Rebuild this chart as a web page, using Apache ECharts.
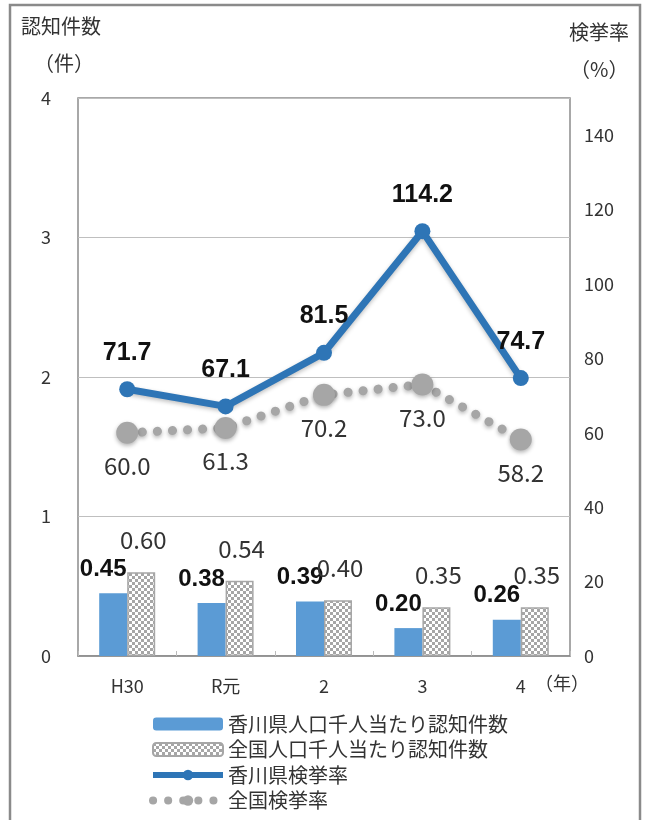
<!DOCTYPE html>
<html>
<head>
<meta charset="utf-8">
<script src="https://cdn.jsdelivr.net/npm/echarts@6/dist/echarts.min.js"></script>
<style>
  html, body { margin: 0; padding: 0; background: #fff; }
  #main { width: 646px; height: 820px; }
</style>
</head>
<body>
<div id="main"></div>
<script>
const years = ['H30', 'R元', '2', '3', '4']
const kagawaCount = [0.45, 0.38, 0.39, 0.20, 0.26]
const nationalCount = [0.60, 0.54, 0.40, 0.35, 0.35]
const kagawaRate = [71.7, 67.1, 81.5, 114.2, 74.7]
const nationalRate = [60.0, 61.3, 70.2, 73.0, 58.2]
const leftTicks = [0, 1, 2, 3, 4]
const rightTicks = [0, 20, 40, 60, 80, 100, 120, 140]

const FONT = '"Noto Sans CJK JP", sans-serif'
const BOLD_FONT = '"Liberation Sans", Arial, sans-serif'

// checker pattern for the national bars
function checker() {
    let c = document.createElement('canvas')
    c.width = 6; c.height = 6
    let ctx = c.getContext('2d')
    ctx.fillStyle = '#ffffff'
    ctx.fillRect(0, 0, 6, 6)
    ctx.fillStyle = '#a6a6a6'
    ctx.fillRect(0, 0, 3, 3)
    ctx.fillRect(3, 3, 3, 3)
    return c
}
const pattern = { image: checker(), repeat: 'repeat' }

let myChart = echarts.init(document.getElementById('main'))

let option = {
    animation: false,
    textStyle: { fontFamily: FONT },
    grid: {
        left: 78, right: 76, top: 98, bottom: 164,
        show: true, borderColor: '#8c8c8c', borderWidth: 1.5
    },
    graphic: [
        { type: 'rect', shape: { x: 10, y: 5, width: 630, height: 830 },
          style: { fill: 'none', stroke: '#8a8a8a', lineWidth: 2.5 }, silent: true },
        { type: 'text', left: 21, top: 16, style: { text: '認知件数', font: '20px ' + FONT, fill: '#333' } },
        { type: 'text', left: 34, top: 53, style: { text: '（件）', font: '20px ' + FONT, fill: '#333' } },
        { type: 'text', left: 569, top: 22, style: { text: '検挙率', font: '20px ' + FONT, fill: '#333' } },
        { type: 'text', left: 570, top: 59, style: { text: '（%）', font: '20px ' + FONT, fill: '#333' } },
        { type: 'text', left: 535, top: 674, style: { text: '（年）', font: '18px ' + FONT, fill: '#333' } }
    ],
    legend: {
        orient: 'vertical',
        left: 144, top: 709,
        itemWidth: 70, itemHeight: 13, itemGap: 5.5,
        textStyle: { fontSize: 20, color: '#333', fontFamily: FONT },
        data: [
            { name: '香川県人口千人当たり認知件数' },
            { name: '全国人口千人当たり認知件数' },
            { name: '香川県検挙率', lineStyle: { width: 6 } },
            { name: '全国検挙率', lineStyle: { width: 8 } }
        ]
    },
    xAxis: {
        type: 'category',
        data: years,
        axisLine: { lineStyle: { color: '#8c8c8c', width: 1.5 } },
        axisTick: { show: true, length: -5, lineStyle: { color: '#bbb' } },
        axisLabel: { color: '#333', fontSize: 18, margin: 21 }
    },
    yAxis: [{
        type: 'value', min: leftTicks[0], max: leftTicks[leftTicks.length - 1], interval: 1,
        axisLine: { show: false }, axisTick: { show: false },
        axisLabel: { color: '#333', fontSize: 18, margin: 27 },
        splitLine: { lineStyle: { color: '#bfbfbf', width: 1 } }
    }, {
        type: 'value', min: 0, max: 150, interval: 20,
        axisLine: { show: false }, axisTick: { show: false },
        axisLabel: {
            color: '#333', fontSize: 18, margin: 14,
            formatter: v => rightTicks.indexOf(v) >= 0 ? String(v) : ''
        },
        splitLine: { show: false }
    }],
    series: [{
        name: '香川県人口千人当たり認知件数',
        type: 'bar',
        data: kagawaCount,
        barWidth: 28, barGap: '0%',
        itemStyle: { color: '#5b9bd5' },
        label: {
            show: true, position: 'top', distance: 12, offset: [-10, 0],
            fontSize: 24, fontWeight: 'bold', color: '#111', fontFamily: BOLD_FONT,
            formatter: p => p.value.toFixed(2)
        },
        z: 2
    }, {
        name: '全国人口千人当たり認知件数',
        type: 'bar',
        data: nationalCount,
        barWidth: 28,
        itemStyle: { color: pattern, borderColor: '#a6a6a6', borderWidth: 1.5 },
        label: {
            show: true, position: 'top', distance: 20, offset: [2, 0],
            fontSize: 24, color: '#333',
            formatter: p => p.value.toFixed(2)
        },
        z: 2
    }, {
        name: '香川県検挙率',
        type: 'line',
        yAxisIndex: 1,
        data: kagawaRate,
        symbol: 'circle', symbolSize: 16,
        lineStyle: { color: '#2e75b6', width: 7,
            shadowColor: 'rgba(0,0,0,0.25)', shadowBlur: 4, shadowOffsetY: 2 },
        itemStyle: { color: '#2e75b6' },
        label: {
            show: true, position: 'top', distance: 16,
            fontSize: 25, fontWeight: 'bold', color: '#111', fontFamily: BOLD_FONT,
            formatter: p => p.value.toFixed(1)
        },
        z: 5
    }, {
        name: '全国検挙率',
        type: 'line',
        yAxisIndex: 1,
        data: nationalRate,
        symbol: 'circle', symbolSize: 22,
        lineStyle: { color: '#a6a6a6', width: 9, type: [0.1, 15], cap: 'round',
            shadowColor: 'rgba(0,0,0,0.3)', shadowBlur: 4, shadowOffsetY: 2 },
        itemStyle: { color: '#a6a6a6', shadowColor: 'rgba(0,0,0,0.3)', shadowBlur: 4, shadowOffsetY: 2 },
        label: {
            show: true, position: 'bottom', distance: 10,
            fontSize: 24, color: '#333',
            formatter: p => p.value.toFixed(1)
        },
        z: 4
    }]
}

myChart.setOption(option)
</script>
</body>
</html>
